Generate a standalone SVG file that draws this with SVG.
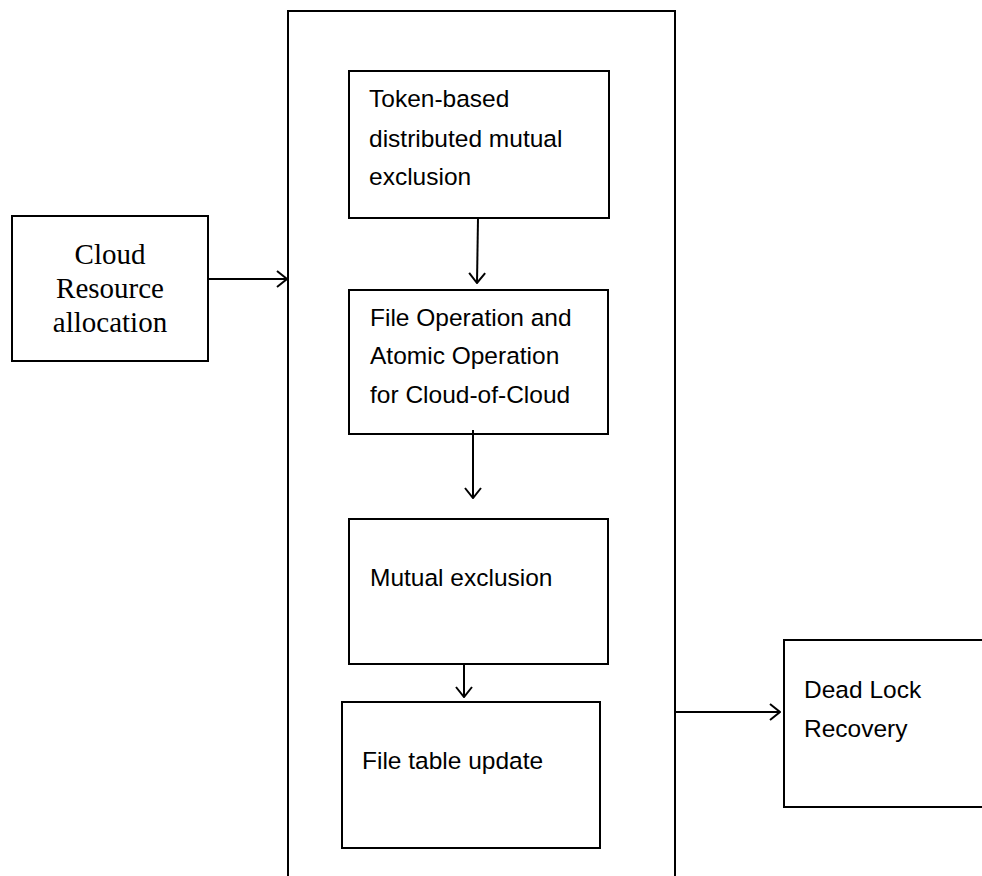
<svg xmlns="http://www.w3.org/2000/svg" width="982" height="876" viewBox="0 0 982 876">
<style>
.box{fill:#fff;stroke:#000;stroke-width:2}
.c{fill:none;stroke:#000;stroke-width:2}
.t{font-family:"Liberation Sans",Arial,sans-serif;font-size:24.5px;fill:#000}
.s{font-family:"Liberation Serif","Times New Roman",serif;font-size:29px;fill:#000}
</style>
<defs>
<marker id="ah" viewBox="0 0 12 18" refX="11" refY="9" markerWidth="12" markerHeight="18" markerUnits="userSpaceOnUse" orient="auto">
<path d="M1,1 L11,9 L1,17" fill="none" stroke="#000" stroke-width="2"/>
</marker>
</defs>
<g id="container"><path class="c" d="M288,880 V11 H675 V880"/></g>
<g id="cloud-resource">
<rect class="box" x="12" y="216" width="196" height="145"/>
<text class="s" x="110" y="264" text-anchor="middle">Cloud</text>
<text class="s" x="110" y="298" text-anchor="middle">Resource</text>
<text class="s" x="110" y="332" text-anchor="middle">allocation</text>
</g>
<g id="token">
<rect class="box" x="349" y="71" width="260" height="147"/>
<text class="t" x="369" y="107">Token-based</text>
<text class="t" x="369" y="147">distributed mutual</text>
<text class="t" x="369" y="185">exclusion</text>
</g>
<g id="fileop">
<rect class="box" x="349" y="290" width="259" height="144"/>
<text class="t" x="370" y="326">File Operation and</text>
<text class="t" x="370" y="364">Atomic Operation</text>
<text class="t" x="370" y="403">for Cloud-of-Cloud</text>
</g>
<g id="mutex">
<rect class="box" x="349" y="519" width="259" height="145"/>
<text class="t" x="370" y="586">Mutual exclusion</text>
</g>
<g id="filetable">
<rect class="box" x="342" y="702" width="258" height="146"/>
<text class="t" x="362" y="769">File table update</text>
</g>
<g id="deadlock">
<path class="c" d="M990,640 H784 V807 H990"/>
<text class="t" x="804" y="698">Dead Lock</text>
<text class="t" x="804" y="737">Recovery</text>
</g>
<g id="connectors">
<line class="c" x1="208" y1="279" x2="287" y2="279" marker-end="url(#ah)"/>
<line class="c" x1="478" y1="218" x2="477" y2="283" marker-end="url(#ah)"/>
<line class="c" x1="473" y1="430" x2="473" y2="498" marker-end="url(#ah)"/>
<line class="c" x1="464" y1="664" x2="464" y2="697" marker-end="url(#ah)"/>
<line class="c" x1="675" y1="712" x2="780" y2="712" marker-end="url(#ah)"/>
</g>
</svg>
